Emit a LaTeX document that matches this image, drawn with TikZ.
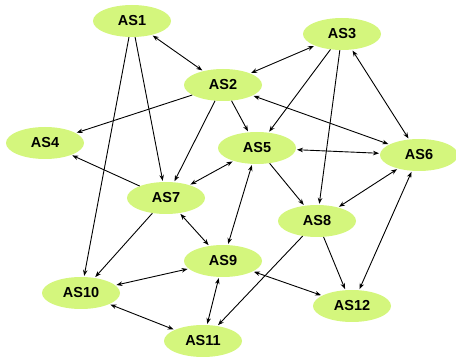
\documentclass[tikz,border=0pt]{standalone}
\usepackage{fontspec}
\setmainfont{Liberation Sans}
\usetikzlibrary{shapes.geometric,arrows.meta}
\definecolor{asfill}{HTML}{D4F67D}
\begin{document}
\begin{tikzpicture}[x=1pt,y=-1pt,
  as/.style={ellipse,fill=asfill,draw=none,minimum width=78pt,minimum height=32pt,inner sep=0pt,font=\fontsize{14.5}{16}\selectfont\bfseries},
  link/.style={line width=0.9pt,-{Stealth[length=6pt,width=4.5pt]},shorten >=1pt},
  dlink/.style={line width=0.9pt,{Stealth[length=6pt,width=4.5pt]}-{Stealth[length=6pt,width=4.5pt]},shorten >=1pt,shorten <=1pt}]
\useasboundingbox (0,0) rectangle (456,358);
\node[as] (as1) at (132,21) {AS1};
\node[as] (as2) at (223,85) {AS2};
\node[as] (as3) at (342,34) {AS3};
\node[as] (as4) at (45,143) {AS4};
\node[as] (as5) at (257,148) {AS5};
\node[as] (as6) at (419,155) {AS6};
\node[as] (as7) at (166,198) {AS7};
\node[as] (as8) at (317,221) {AS8};
\node[as] (as9) at (223,261) {AS9};
\node[as] (as10) at (81,293) {AS10};
\node[as] (as11) at (203,341) {AS11};
\node[as] (as12) at (352,306) {AS12};
\draw[dlink] (as1) -- (as2);
\draw[link] (as1) -- (as7);
\draw[link] (as1) -- (as10);
\draw[link] (as2) -- (as4);
\draw[link] (as2) -- (as7);
\draw[link] (as2) -- (as5);
\draw[dlink] (as2) -- (as6);
\draw[dlink] (as3) -- (as2);
\draw[link] (as3) -- (as5);
\draw[link] (as3) -- (as8);
\draw[dlink] (as3) -- (as6);
\draw[dlink] (as5) -- (as6);
\draw[dlink] (as5) -- (as7);
\draw[link] (as5) -- (as8);
\draw[dlink] (as5) -- (as9);
\draw[dlink] (as6) -- (as8);
\draw[dlink] (as6) -- (as12);
\draw[link] (as7) -- (as4);
\draw[link] (as7) -- (as10);
\draw[dlink] (as7) -- (as9);
\draw[link] (as8) -- (as12);
\draw[link] (as8) -- (as11);
\draw[dlink] (as9) -- (as10);
\draw[dlink] (as9) -- (as11);
\draw[dlink] (as9) -- (as12);
\draw[dlink] (as10) -- (as11);
\end{tikzpicture}
\end{document}
